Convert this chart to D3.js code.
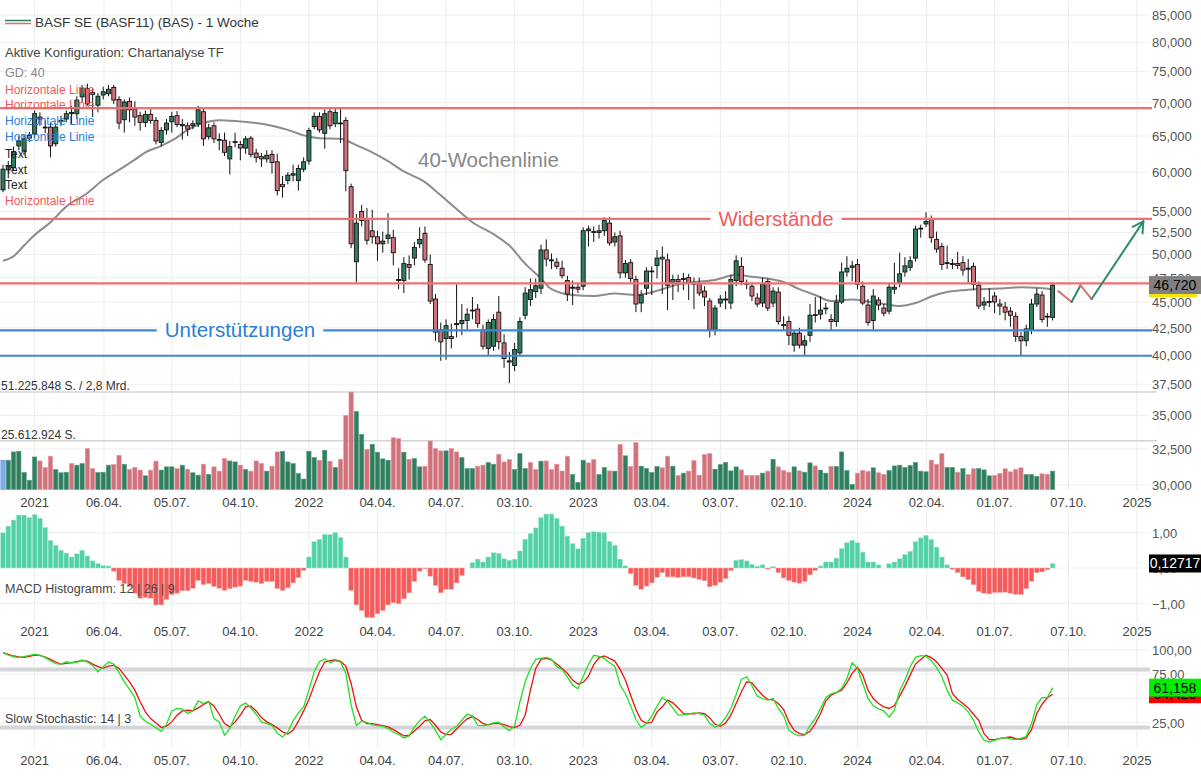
<!DOCTYPE html>
<html><head><meta charset="utf-8">
<script src="https://cdn.jsdelivr.net/npm/d3@7"></script>
<style>body{margin:0;background:#fff;} svg{display:block;font-family:"Liberation Sans",Arial,sans-serif;}</style>
</head><body><svg id="c" width="1201" height="776"></svg>
<script>
// ---------- DATA ----------
const startWeek = "2020-11-23";
const opens = [57.7,60.3,60.6,63.6,62.9,65.1,65.3,67.8,66.3,66.3,
63.9,67.1,67.5,68.3,68.3,70.9,72.2,71.3,69.6,71.2,
71.4,72.4,70.5,67.4,70.2,69.0,68.0,67.0,68.2,67.3,
64.1,65.9,67.1,68.0,66.5,66.5,66.5,66.8,68.6,64.9,
66.5,64.5,64.4,61.8,64.1,63.8,63.3,64.7,62.6,62.1,
61.8,62.4,61.4,58.4,58.9,59.6,58.9,60.4,61.5,66.4,
67.9,65.4,68.6,66.8,66.8,67.3,58.1,49.2,55.0,54.0,
52.7,52.0,51.2,51.8,51.9,47.3,47.2,48.9,49.6,51.2,
52.4,48.9,45.3,42.3,41.5,41.7,42.8,42.9,43.2,44.2,
44.3,42.3,40.6,40.8,44.0,41.1,39.5,39.1,40.2,43.7,
45.25,46.05,46.4,50.5,49.4,49.15,48.5,47.2,46.4,46.5,
46.6,52.7,52.6,52.5,52.7,53.6,51.4,52.1,48.0,49.1,
47.3,44.9,46.4,48.2,48.8,49.7,49.4,46.9,47.3,47.3,
47.5,46.9,46.9,46.1,45.1,42.3,44.9,45.2,44.9,47.2,
48.7,46.9,46.6,45.4,44.9,47.1,44.9,46.0,42.8,43.1,
40.9,42.0,40.9,41.8,43.7,43.8,44.4,43.3,43.1,45.0,
48.1,48.6,48.9,46.6,44.7,43.2,45.2,44.4,44.1,46.3,
47.0,48.1,48.6,49.6,52.9,53.5,54.1,51.7,50.9,49.1,
48.9,49.0,49.1,48.5,48.7,46.7,44.7,45.0,45.6,44.8,
44.5,44.1,43.6,41.7,41.3,42.35,44.8,45.7,43.6,43.5];
const highs = [61.0,61.5,63.5,65.0,65.2,65.6,68.8,68.5,67.3,67.0,
66.8,68.0,68.8,69.5,71.0,72.8,73.0,72.2,71.5,72.5,
72.8,72.8,71.0,70.5,70.8,70.2,68.6,68.8,69.0,67.8,
66.3,67.5,68.6,68.7,67.5,67.0,67.3,69.5,69.2,66.8,
67.0,65.4,65.5,64.3,65.5,64.3,65.0,65.0,63.2,62.6,
63.0,63.0,62.5,59.5,60.0,61.0,61.0,62.0,66.2,68.5,
68.5,69.0,69.0,69.2,69.0,67.8,58.5,54.7,55.8,55.4,
55.2,52.7,52.6,54.8,52.8,48.5,49.7,49.9,51.4,53.1,
53.2,50.0,45.8,43.0,43.3,42.9,46.8,44.8,44.4,45.5,
44.8,42.8,43.3,43.8,45.6,41.9,40.3,41.1,43.5,46.5,
47.4,47.4,51.1,51.7,50.1,49.6,49.3,47.7,47.2,46.9,
53.1,53.3,53.2,53.4,54.3,54.3,52.5,52.7,49.4,49.5,
47.7,46.2,48.6,48.7,50.5,50.9,50.1,47.8,47.8,48.0,
47.9,47.5,47.5,46.6,45.4,44.7,45.7,46.1,47.8,49.9,
49.7,47.3,47.0,45.9,47.5,47.4,46.5,46.5,43.6,43.6,
42.3,42.5,41.8,44.8,45.5,45.6,44.9,43.8,45.7,49.1,
49.8,49.3,49.5,47.1,45.3,46.3,45.5,44.8,46.9,49.1,
50.2,49.7,49.8,53.3,53.4,54.9,54.5,52.6,51.3,51.0,
49.5,50.3,49.8,49.5,49.1,47.1,45.5,46.4,46.0,45.3,
45.0,44.5,44.0,42.1,42.8,45.3,46.4,46.1,43.9,47.0];
const lows = [57.4,59.2,60.2,63.0,62.3,64.2,64.8,66.5,65.4,62.0,
63.5,66.5,67.0,66.8,67.5,70.0,69.5,67.8,68.5,70.5,
71.0,69.8,66.0,65.5,67.0,66.5,65.8,66.3,66.8,63.8,
63.5,65.2,65.5,66.3,64.5,65.0,66.0,66.3,63.6,64.5,
64.0,63.0,62.2,59.7,63.4,61.6,62.5,62.0,61.3,60.7,
61.3,59.8,57.0,56.7,58.4,58.8,57.6,60.0,61.0,66.0,
65.5,63.2,66.0,66.3,64.0,57.5,50.7,47.0,53.2,51.1,
51.2,49.3,50.2,51.2,48.8,46.3,45.9,47.3,48.8,50.7,
49.1,44.8,41.3,39.5,39.6,40.6,41.6,41.8,42.3,43.3,
42.5,40.5,40.0,40.4,40.5,38.9,37.6,38.6,39.9,43.3,
44.6,45.4,45.8,48.7,48.4,48.4,47.4,45.1,44.7,45.9,
46.2,50.9,51.4,51.8,52.1,51.0,50.9,47.4,47.5,47.0,
44.0,44.0,45.7,45.7,47.4,45.8,44.2,45.2,46.0,46.2,
45.2,44.3,45.6,44.6,41.6,41.8,44.5,44.3,44.3,46.6,
46.7,46.3,45.1,44.5,44.5,44.1,44.5,42.8,42.2,40.9,
40.3,40.6,40.0,41.2,43.0,43.3,43.8,42.2,42.6,44.8,
47.6,47.1,46.3,44.7,42.7,42.3,44.2,43.6,43.8,45.8,
46.5,47.6,48.2,49.2,51.9,53.1,51.3,50.2,48.3,48.4,
48.4,48.4,47.7,46.9,46.2,44.3,44.2,44.5,43.9,43.7,
43.2,42.6,41.2,40.0,40.8,41.9,44.5,43.0,42.6,43.2];
const closes = [60.4,60.8,62.8,64.3,64.6,64.7,68.3,67.5,66.2,63.6,
66.3,67.3,68.3,68.5,70.4,72.3,69.8,71.6,71.0,71.7,
72.1,70.4,66.9,70.1,68.9,67.8,67.0,68.2,67.3,64.3,
65.8,66.9,67.9,66.7,66.7,66.0,66.8,68.9,64.6,66.2,
64.6,64.4,62.7,63.5,64.2,63.3,64.6,62.4,62.0,61.8,
62.3,61.3,57.6,58.1,59.6,59.8,60.5,61.4,65.8,67.9,
65.9,68.3,66.5,68.5,66.9,60.2,51.2,53.6,53.9,51.6,
52.0,51.2,51.5,52.2,50.2,47.2,49.0,48.6,50.8,51.7,
49.4,45.1,42.1,41.2,42.7,41.5,42.9,43.2,43.8,44.15,
42.9,40.8,43.0,43.3,41.2,39.7,39.4,40.5,43.1,45.9,
46.25,46.65,50.5,49.5,49.3,48.7,47.7,45.8,46.5,46.3,
52.7,52.9,52.5,52.7,53.9,51.3,52.0,48.0,49.0,47.4,
44.8,45.7,48.2,48.2,49.6,49.5,46.7,47.3,47.05,47.4,
46.9,46.9,45.9,45.5,42.3,44.4,45.3,45.3,47.3,49.3,
47.1,46.8,45.6,44.8,46.8,44.4,46.1,43.1,42.75,41.8,
42.0,40.9,41.3,43.7,43.75,44.2,44.4,43.1,45.0,48.1,
48.5,48.75,46.8,44.9,43.0,45.6,44.7,43.9,46.5,46.5,
47.9,48.75,49.3,52.9,53.0,53.8,51.9,50.6,48.9,49.0,
49.0,48.8,48.3,48.4,46.8,44.6,45.0,45.05,45.0,44.6,
44.0,43.7,41.7,41.3,42.4,44.8,45.8,43.3,43.55,46.72];
// weekly volume in millions of shares
const volumes = [15.4,15.4,19.75,20.1,8.95,4.9,17.1,15.0,11.6,17.5,
10.5,8.8,9.1,13.65,12.8,13.65,21.5,11.0,8.95,9.1,
12.8,13.1,18.0,13.3,10.5,11.6,10.2,7.2,10.2,14.9,
10.2,11.9,11.9,11.0,12.8,10.7,8.8,7.55,13.3,7.9,
11.9,9.65,16.3,15.0,14.5,12.8,10.5,9.65,15.0,13.65,
9.65,12.25,19.75,20.1,14.5,13.65,8.4,5.5,20.1,16.8,
15.4,20.6,14.9,11.6,15.9,38.9,51.2,41.0,29.0,21.0,
23.75,19.6,16.1,15.4,27.2,26.7,19.6,15.9,16.3,11.9,
12.25,25.5,21.5,20.3,20.3,21.5,19.75,16.8,11.0,11.0,
12.25,12.8,14.2,13.3,18.5,14.5,15.75,10.5,18.9,11.0,
14.2,10.5,14.9,15.0,10.5,13.3,9.7,17.5,7.9,3.7,
15.4,14.0,15.75,7.9,11.6,9.8,9.65,23.75,17.7,12.1,
24.6,12.25,11.0,8.95,12.1,11.4,17.5,12.25,7.4,8.6,
9.65,15.2,7.55,18.35,18.9,10.7,13.1,14.2,9.8,11.9,
10.3,7.4,7.4,7.4,8.6,9.65,15.9,11.9,10.0,9.1,
11.9,9.8,9.1,14.0,12.4,10.2,8.6,12.1,12.1,19.75,
10.0,2.67,8.6,10.0,9.5,11.4,8.8,7.9,10.0,12.4,
12.8,11.6,12.6,14.2,9.65,9.3,15.4,13.3,18.9,11.6,
11.6,9.1,11.0,7.9,10.9,11.0,10.3,7.2,7.4,8.4,
10.9,9.3,10.5,11.4,7.9,7.9,6.9,8.25,8.0,9.65];
const volumeUp = [1,1,1,1,1,1,1,0,0,0, 1,1,1,0,1,1,0,0,1,1, 1,0,0,1,0,0,0,1,0,0, 1,1,1,0,1,0,1,1,0,1,
0,0,0,1,1,0,1,0,0,0, 1,0,0,1,1,1,1,1,1,1, 0,1,0,1,0,0,0,1,1,0, 1,1,1,1,0,0,1,0,1,1,
0,0,0,0,1,0,0,1,1,1, 0,0,1,1,0,0,0,1,1,1, 0,0,1,0,0,0,0,0,1,1, 1,0,0,1,1,0,1,0,1,0,
0,1,1,1,1,0,0,1,0,1, 0,0,0,0,0,1,1,1,1,1, 0,0,0,0,1,0,1,0,0,0, 1,0,1,1,0,1,1,0,1,1,
1,1,0,0,0,1,0,0,1,1, 1,1,1,1,1,1,0,0,0,1, 1,0,1,0,0,1,1,1,0,0, 0,0,0,0,1,1,1,0,0,1];
const volumeHighlight = 0;
const volumeMax = 51.225848, volumeHalf = 25.612924;
const macdHist = [0.99,1.18,1.35,1.49,1.49,1.42,1.51,1.40,1.14,0.78,
0.64,0.50,0.42,0.31,0.40,0.50,0.34,0.20,0.12,0.066,
0.057,-0.09,-0.35,-0.44,-0.52,-0.71,-0.85,-0.83,-0.85,-1.04,
-1.04,-0.89,-0.75,-0.71,-0.64,-0.64,-0.57,-0.35,-0.47,-0.44,
-0.52,-0.57,-0.63,-0.58,-0.54,-0.51,-0.35,-0.38,-0.40,-0.44,
-0.38,-0.38,-0.58,-0.63,-0.56,-0.42,-0.27,-0.07,0.31,0.74,
0.81,0.95,0.94,1.0,0.86,0.31,-0.63,-1.04,-1.20,-1.39,
-1.40,-1.29,-1.20,-1.04,-0.98,-1.01,-0.87,-0.70,-0.38,-0.09,
-0.02,-0.23,-0.49,-0.70,-0.60,-0.60,-0.42,-0.21,0.0,0.15,
0.25,0.17,0.31,0.43,0.41,0.26,0.22,0.25,0.48,0.81,
0.97,1.13,1.42,1.52,1.52,1.40,1.18,0.90,0.69,0.54,
0.84,1.0,1.02,1.01,1.0,0.75,0.64,0.25,0.06,-0.16,
-0.49,-0.60,-0.51,-0.42,-0.26,-0.13,-0.25,-0.25,-0.27,-0.25,
-0.25,-0.28,-0.32,-0.36,-0.53,-0.49,-0.40,-0.30,-0.07,0.22,
0.24,0.20,0.10,0.05,0.09,-0.03,0.04,-0.13,-0.28,-0.35,
-0.40,-0.43,-0.38,-0.19,-0.07,0.06,0.17,0.17,0.28,0.55,
0.71,0.78,0.71,0.45,0.17,0.17,0.09,0.0,0.12,0.17,
0.26,0.38,0.47,0.74,0.85,0.92,0.81,0.59,0.31,0.09,
-0.04,-0.13,-0.25,-0.33,-0.47,-0.66,-0.71,-0.73,-0.69,-0.69,
-0.68,-0.71,-0.74,-0.75,-0.58,-0.38,-0.13,-0.11,-0.05,0.12717];
const stochK = [97.2,94.8,93.1,92.1,93.1,94.5,95.5,94.5,92.1,89.0,
85.9,85.5,87.9,86.6,87.6,89.7,87.6,84.1,77.6,82.8,
87.6,85.5,76.6,67.2,59.3,51.0,31.7,26.6,23.4,20.0,
16.2,23.4,37.2,39.7,39.0,34.5,37.2,47.6,44.8,47.2,
29.3,25.9,12.1,19.0,31.7,42.4,45.5,40.3,33.8,25.9,
24.1,22.4,14.5,10.3,15.5,26.9,35.2,41.4,58.6,77.6,
87.9,91.0,86.9,89.0,87.6,75.9,43.1,22.4,26.6,25.5,
22.8,22.1,21.4,19.0,15.2,13.1,9.3,11.4,20.7,27.2,
31.7,25.2,17.2,7.6,13.1,18.3,21.4,27.6,33.8,32.1,
22.4,21.7,23.1,24.8,25.5,20.7,16.9,21.4,46.6,67.2,
81.0,90.3,91.4,92.4,90.3,82.8,80.0,72.0,64.0,60.0,
73.0,85.0,94.5,93.5,91.4,86.9,83.4,63.8,55.2,42.4,
28.3,20.0,24.1,31.7,42.1,51.0,46.9,40.3,32.8,33.1,
34.1,35.2,34.5,32.8,24.1,20.3,23.4,30.3,39.7,54.1,
69.7,72.4,63.1,52.4,50.0,48.3,50.0,39.7,32.4,17.2,
13.4,11.4,12.1,22.1,29.3,39.7,51.0,54.8,56.2,60.3,
70.7,86.9,81.0,65.5,50.0,42.4,39.3,37.2,31.0,37.9,
57.9,69.0,82.8,92.4,94.1,93.8,89.0,82.1,72.4,58.6,
48.3,45.5,42.1,36.2,27.6,15.5,6.9,5.2,6.9,9.0,
9.7,8.3,7.6,9.0,11.0,24.1,43.8,51.0,51.0,61.158];
const stochD = [97.2,95.5,93.8,92.8,92.4,93.4,94.8,94.5,92.8,90.3,
87.6,85.5,86.2,86.9,87.9,89.0,88.6,85.5,82.8,81.4,
83.4,84.1,81.0,74.1,67.2,58.6,46.6,36.2,29.3,24.8,
20.0,21.4,25.9,32.8,37.2,37.9,37.2,40.3,43.8,46.6,
42.1,33.8,24.1,20.7,25.9,32.8,41.4,42.1,37.2,30.3,
25.9,23.1,19.7,15.5,13.4,17.2,26.6,37.2,49.0,63.8,
77.6,87.6,89.0,89.7,88.3,83.4,65.5,41.4,27.6,24.1,
24.1,23.1,22.1,20.7,17.9,14.8,11.4,12.1,16.6,21.4,
26.9,28.3,22.4,15.5,12.8,13.1,18.6,24.1,29.0,31.4,
28.3,24.1,22.8,24.1,24.1,23.1,21.0,20.0,22.4,32.8,
58.6,81.0,90.3,91.4,89.7,85.5,81.0,76.0,69.0,65.0,
66.7,73.0,85.0,92.0,93.8,91.4,88.6,80.0,69.0,53.4,
38.6,27.6,24.5,25.5,36.2,41.4,48.3,45.5,40.3,34.5,
34.1,34.1,35.2,34.5,30.0,23.4,21.4,24.8,32.8,44.8,
56.9,67.2,66.2,59.3,53.4,49.0,48.6,44.8,38.6,25.9,
17.2,13.8,12.8,16.2,24.1,34.5,47.6,53.4,55.9,58.6,
66.2,75.9,82.1,74.1,58.6,50.0,44.8,41.4,39.7,42.8,
52.4,62.8,74.1,85.5,90.3,94.5,92.1,87.9,81.0,74.1,
55.2,49.0,44.8,40.3,33.8,27.6,13.8,7.6,7.6,8.6,
9.7,10.3,8.6,7.9,9.3,17.9,34.5,44.1,50.7,54.425];
// 40-week moving average, read at these candle indices
const smaIndex = [0,2,4,6,9,12,16,19,22,25,27,30,33,35,38,41,44,48,51,54,57,60,64,65,67,70,73,76,80,83,86,89,93,96,99,102,104,108,112,116,120,125,128,131,135,139,142,145,148,151,154,157,161,164,167,170,173,176,179,182,185,190,193,196,199];
const smaValue = [49.3,49.8,51.0,52.2,53.7,55.6,57.3,59.0,60.3,61.7,62.7,63.6,64.8,65.9,66.9,67.3,67.2,66.9,66.5,65.9,65.1,64.7,64.6,64.4,63.7,62.7,61.5,60.1,58.7,57.0,55.3,53.7,52.3,51.0,49.0,47.4,46.3,45.7,45.6,45.85,45.7,46.3,46.8,47.05,47.25,47.8,47.6,47.4,47.05,46.3,45.7,45.1,45.25,45.05,44.8,44.6,44.9,45.55,46.0,46.2,46.3,46.4,46.5,46.45,46.3];
const resistanceLevels = [69.15, 54.1, 46.9];
const supportLevels = [42.25, 39.95];
// projection path: weeks after the last candle, price
const projWeeks = [1.1, 3.6, 5.3, 7.4, 17.2];
const projPrices = [46.1, 45.0, 46.7, 45.3, 53.8];
const projColors = ["#d9737b", "#2e8b6a", "#d9737b", "#2e8b6a"];
const priceTicks = [30,32.5,35,37.5,40,42.5,45,47.5,50,52.5,55,60,65,70,75,80,85];
const macdTicks = [-1,0,1];
const stochGrid = [25,50,75,100];
const stochLabels = [25,75,100];
const dateTicks = ["2021-01-04","2021-04-06","2021-07-05","2021-10-04","2022-01-03","2022-04-04","2022-07-04","2022-10-03","2023-01-02","2023-04-03","2023-07-03","2023-10-02","2024-01-01","2024-04-02","2024-07-01","2024-10-07","2025-01-06"];
const dateTickLabels = ["2021","06.04.","05.07.","04.10.","2022","04.04.","04.07.","03.10.","2023","03.04.","03.07.","02.10.","2024","02.04.","01.07.","07.10.","2025"];
const lastPrice = 46.720, lastMacd = 0.12717, lastK = 61.158, lastD = 54.425;

// ---------- CHART ----------
const svg = d3.select("#c");
const plotR = 1150;
const GREEN = "#2f7f5f", PINK = "#d0717b";
const x = d3.scaleUtc().domain([new Date("2020-11-23"), new Date("2025-01-06")]).range([3, 1137]);
const yP = d3.scaleLog().domain([30, 85]).range([485, 15]);
const yV = d3.scaleLinear().domain([0, volumeMax]).range([489.5, 392]);
const yM = d3.scaleLinear().domain([-1, 1]).range([603.5, 532.5]);
const yS = d3.scaleLinear().domain([0, 100]).range([747, 650]);
const dates = closes.map((_, i) => d3.utcDay.offset(new Date(startWeek), 7 * i));
const bw = x(dates[1]) - x(dates[0]);
const deFmt = (v, d) => d3.format(`,.${d}f`)(v).replace(/[,.]/g, m => m === "," ? "." : ",");

const g = svg.append("g");
// vertical grid
const tickDates = dateTicks.map(d => new Date(d));
[[0, 490], [512, 622], [640, 748]].forEach(([a, b]) => {
  g.selectAll(null).data(tickDates).enter().append("line")
    .attr("x1", d => x(d)).attr("x2", d => x(d)).attr("y1", a).attr("y2", b)
    .attr("stroke", "#ececec").attr("stroke-width", 1);
});
// price grid
g.selectAll(null).data(priceTicks).enter().append("line")
  .attr("x1", 0).attr("x2", plotR).attr("y1", d => yP(d)).attr("y2", d => yP(d))
  .attr("stroke", "#efefef");
// macd / stoch grid
g.selectAll(null).data(macdTicks).enter().append("line")
  .attr("x1", 0).attr("x2", plotR).attr("y1", d => yM(d)).attr("y2", d => yM(d)).attr("stroke", "#efefef");
g.selectAll(null).data(stochGrid).enter().append("line")
  .attr("x1", 0).attr("x2", plotR).attr("y1", d => yS(d)).attr("y2", d => yS(d)).attr("stroke", "#efefef");

// volume
g.selectAll(null).data([volumeMax, volumeHalf]).enter().append("line")
  .attr("x1", 0).attr("x2", 1157).attr("y1", d => yV(d)).attr("y2", d => yV(d))
  .attr("stroke", "#d4d4d4").attr("stroke-width", 1.4);
g.selectAll(null).data(volumes).enter().append("rect")
  .attr("x", (d, i) => x(dates[i]) - bw / 2 + 0.5).attr("width", bw - 1)
  .attr("y", d => yV(d)).attr("height", d => yV(0) - yV(d))
  .attr("fill", (d, i) => i === volumeHighlight ? "#82aaf0" : (volumeUp[i] ? GREEN : PINK))
  .attr("stroke", (d, i) => i === volumeHighlight ? "#5b8ee0" : (volumeUp[i] ? "#5a9a80" : "#e29aa2"))
  .attr("stroke-width", 0.6);
svg.append("text").attr("x", 1).attr("y", 390).attr("font-size", 12).attr("fill", "#333").text("51.225.848 S. / 2,8 Mrd.");
svg.append("text").attr("x", 1).attr("y", 439).attr("font-size", 12).attr("fill", "#333").text("25.612.924 S.");

// SMA
const sma = smaIndex.map((k, j) => [x(dates[k]), yP(smaValue[j])]);
g.append("path").attr("d", d3.line().curve(d3.curveMonotoneX)(sma))
  .attr("fill", "none").attr("stroke", "#8c8c8c").attr("stroke-width", 2);

// candles
const cg = g.append("g");
closes.forEach((c, i) => {
  const o = opens[i], cx = x(dates[i]);
  cg.append("line").attr("x1", cx).attr("x2", cx).attr("y1", yP(highs[i])).attr("y2", yP(lows[i]))
    .attr("stroke", "#111").attr("stroke-width", 1);
  const top = yP(Math.max(o, c)), bot = yP(Math.min(o, c));
  cg.append("rect").attr("x", cx - 2).attr("width", 4)
    .attr("y", top).attr("height", Math.max(bot - top, 0.8))
    .attr("fill", c >= o ? GREEN : PINK).attr("stroke", "#111").attr("stroke-width", 0.9);
});

// horizontal lines
g.selectAll(null).data(resistanceLevels).enter().append("line")
  .attr("x1", 0).attr("x2", 1152).attr("y1", d => yP(d)).attr("y2", d => yP(d))
  .attr("stroke", "#f07070").attr("stroke-width", 2.2);
g.selectAll(null).data(supportLevels).enter().append("line")
  .attr("x1", 0).attr("x2", 1152).attr("y1", d => yP(d)).attr("y2", d => yP(d))
  .attr("stroke", "#3d88d8").attr("stroke-width", 2.2);

// big labels with white background
function bigLabel(txt, cx, cy, color, pad) {
  const t = svg.append("text").attr("x", cx).attr("y", cy + 7).attr("text-anchor", "middle")
    .attr("font-size", 20.5).attr("fill", color).text(txt);
  const bb = t.node().getBBox();
  svg.insert("rect", () => t.node()).attr("x", bb.x - pad).attr("y", cy - 3).attr("width", bb.width + 2 * pad).attr("height", 6).attr("fill", "#fff");
}
bigLabel("Widerstände", 776, yP(resistanceLevels[1]), "#f05a5a", 8);
bigLabel("Unterstützungen", 240, yP(supportLevels[0]), "#2b7ed6", 8);
svg.append("text").attr("x", 418).attr("y", 167).attr("font-size", 20.5).attr("fill", "#888").text("40-Wochenlinie");

// projection
const lastDate = dates[dates.length - 1];
const pp = projWeeks.map((w, j) => [x(new Date(+lastDate + w * 7 * 864e5)), yP(projPrices[j])]);
for (let j = 0; j < pp.length - 1; j++) {
  svg.append("line").attr("x1", pp[j][0]).attr("y1", pp[j][1]).attr("x2", pp[j + 1][0]).attr("y2", pp[j + 1][1])
    .attr("stroke", projColors[j]).attr("stroke-width", 2).attr("stroke-linecap", "round");
}
{
  const a = pp[pp.length - 2], b = pp[pp.length - 1];
  const ang = Math.atan2(a[1] - b[1], a[0] - b[0]);
  [-0.52, 0.52].forEach(da => {
    svg.append("line").attr("x1", b[0]).attr("y1", b[1])
      .attr("x2", b[0] + 12 * Math.cos(ang + da)).attr("y2", b[1] + 12 * Math.sin(ang + da))
      .attr("stroke", "#2e8b6a").attr("stroke-width", 2).attr("stroke-linecap", "round");
  });
}

// MACD
g.selectAll(null).data(macdHist).enter().append("rect")
  .attr("x", (d, i) => x(dates[i]) - bw / 2 + 0.3).attr("width", bw - 0.6)
  .attr("y", d => Math.min(yM(d), yM(0))).attr("height", d => Math.abs(yM(d) - yM(0)))
  .attr("fill", d => d >= 0 ? "#52d0a6" : "#f45c5c")
  .attr("stroke", d => d >= 0 ? "#a6ead2" : "#f9a9a9").attr("stroke-width", 0.5);
svg.append("text").attr("x", 5).attr("y", 593).attr("font-size", 12.5).attr("fill", "#444").text("MACD Histogramm: 12 | 26 | 9");

// Stochastic
g.selectAll(null).data([80, 20]).enter().append("line")
  .attr("x1", 0).attr("x2", plotR).attr("y1", d => yS(d)).attr("y2", d => yS(d))
  .attr("stroke", "#d3d5d9").attr("stroke-width", 4);
const sl = d3.line().x((d, i) => x(dates[i])).y(d => yS(d));
g.append("path").attr("d", sl(stochD)).attr("fill", "none").attr("stroke", "#f01010").attr("stroke-width", 1.3);
g.append("path").attr("d", sl(stochK)).attr("fill", "none").attr("stroke", "#22e022").attr("stroke-width", 1.3);
svg.append("text").attr("x", 5).attr("y", 723).attr("font-size", 12.5).attr("fill", "#444").text("Slow Stochastic: 14 | 3");

// x axis label rows
[502, 631, 760].forEach(cy => {
  svg.selectAll(null).data(tickDates).enter().append("text")
    .attr("x", d => x(d)).attr("y", cy + 5).attr("text-anchor", "middle")
    .attr("font-size", 13).attr("fill", "#444").text((d, i) => dateTickLabels[i]);
});

// right axes
const ax = 1152;
svg.selectAll(null).data(priceTicks).enter().append("text")
  .attr("x", ax).attr("y", d => yP(d) + 5).attr("font-size", 13).attr("fill", "#555").text(d => deFmt(d, 3));
svg.selectAll(null).data(macdTicks).enter().append("text")
  .attr("x", ax).attr("y", d => yM(d) + 5).attr("font-size", 13).attr("fill", "#555").text(d => deFmt(d, 2));
svg.selectAll(null).data(stochLabels).enter().append("text")
  .attr("x", ax).attr("y", d => yS(d) + 5).attr("font-size", 13).attr("fill", "#555").text(d => deFmt(d, 2));

// value boxes
function valBox(v, yc, bg, fg, h) {
  svg.append("rect").attr("x", 1149).attr("y", yc - h / 2).attr("width", 52).attr("height", h).attr("fill", bg);
  svg.append("text").attr("x", 1175).attr("y", yc + 5).attr("text-anchor", "middle").attr("font-size", 14).attr("fill", fg).text(v);
}
valBox(deFmt(lastPrice, 3), yP(lastPrice), "#808080", "#000", 18);
svg.append("rect").attr("x", 1149).attr("y", yP(lastPrice) + 9).attr("width", 48).attr("height", 3).attr("fill", "#f2e600");
valBox(deFmt(lastMacd, 5), yM(lastMacd), "#000", "#fff", 18);
valBox(deFmt(lastD, 3), yS(lastD), "#ff0000", "#000", 18);
valBox(deFmt(lastK, 3), yS(lastK), "#00ee00", "#000", 18);

// legend / overlay texts
svg.append("line").attr("x1", 5).attr("x2", 31).attr("y1", 20.5).attr("y2", 20.5).attr("stroke", "#2f7f5f").attr("stroke-width", 1.5);
svg.append("line").attr("x1", 5).attr("x2", 31).attr("y1", 23.5).attr("y2", 23.5).attr("stroke", "#d0717b").attr("stroke-width", 1.5);
svg.append("text").attr("x", 35).attr("y", 27).attr("font-size", 13.5).attr("fill", "#333").text("BASF SE (BASF11) (BAS) - 1 Woche");
svg.append("text").attr("x", 5).attr("y", 57).attr("font-size", 13).attr("fill", "#444").text("Aktive Konfiguration: Chartanalyse TF");
svg.append("text").attr("x", 5).attr("y", 77).attr("font-size", 12.5).attr("fill", "#888").text("GD: 40");
const overlay = [["Horizontale Linie", "#f05a5a", 94], ["Horizontale Linie", "#f05a5a", 109], ["Horizontale Linie", "#2b7ed6", 125], ["Horizontale Linie", "#2b7ed6", 141], ["Text", "#222", 158], ["Text", "#222", 174], ["Text", "#222", 189], ["Horizontale Linie", "#f05a5a", 205]];
overlay.forEach(([t, c, yy]) => svg.append("text").attr("x", 5).attr("y", yy).attr("font-size", 12).attr("fill", c).text(t));
</script></body></html>
